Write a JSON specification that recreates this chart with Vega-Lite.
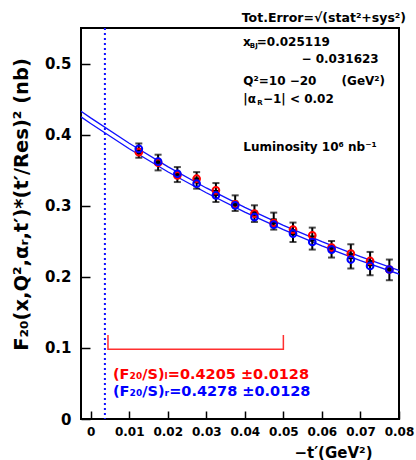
{
  "$schema": "https://vega.github.io/schema/vega-lite/v6.json",
  "width": 318,
  "height": 391,
  "autosize": "none",
  "padding": {"left": 81, "top": 28, "right": 17, "bottom": 41},
  "background": "white",
  "config": {
    "font": "DejaVu Sans",
    "view": {"stroke": "black", "strokeWidth": 2},
    "axis": {"grid": false, "domain": false, "tickColor": "black", "tickWidth": 1.5, "labelColor": "black", "labelFont": "DejaVu Sans", "labelFontWeight": "bold", "titleFont": "DejaVu Sans", "titleFontWeight": "bold", "titleColor": "black", "labelOverlap": false},
    "axisX": {"tickSize": -8, "tickCount": 20, "labelPadding": 15, "labelFontSize": 12, "labelOverlap": false, "labelFlush": false, "titleFontSize": 15, "titleAlign": "right", "titleAnchor": "end", "titleX": 291, "titleY": 33, "titleBaseline": "middle"},
    "axisY": {"tickSize": -9, "tickCount": 20, "labelPadding": 19, "labelFontSize": 15, "labelOverlap": false, "titleFontSize": 19.5, "titleAngle": 270, "titleX": -60, "titleY": 176, "titleAlign": "center", "titleBaseline": "middle"}
  },
  "datasets": {
    "pts": [
      {"t": 0.0125, "F": 0.377, "lo": 0.3675, "hi": 0.3876, "red": 0.3754, "blue": 0.380},
      {"t": 0.0175, "F": 0.361, "lo": 0.3497, "hi": 0.3718, "red": 0.3605, "blue": 0.362},
      {"t": 0.0225, "F": 0.344, "lo": 0.3333, "hi": 0.3544, "red": 0.3427, "blue": 0.345},
      {"t": 0.0275, "F": 0.3357, "lo": 0.324, "hi": 0.3473, "red": 0.338, "blue": 0.331},
      {"t": 0.0325, "F": 0.318, "lo": 0.3052, "hi": 0.3319, "red": 0.3216, "blue": 0.3146},
      {"t": 0.0375, "F": 0.303, "lo": 0.2926, "hi": 0.3146, "red": 0.302, "blue": 0.3006},
      {"t": 0.0425, "F": 0.289, "lo": 0.2771, "hi": 0.3006, "red": 0.2889, "blue": 0.284},
      {"t": 0.0475, "F": 0.278, "lo": 0.2664, "hi": 0.2903, "red": 0.2757, "blue": 0.2734},
      {"t": 0.0525, "F": 0.2626, "lo": 0.249, "hi": 0.2763, "red": 0.2664, "blue": 0.2608},
      {"t": 0.0575, "F": 0.254, "lo": 0.2383, "hi": 0.2692, "red": 0.2584, "blue": 0.249},
      {"t": 0.0625, "F": 0.239, "lo": 0.2271, "hi": 0.2504, "red": 0.241, "blue": 0.2383},
      {"t": 0.0675, "F": 0.229, "lo": 0.2117, "hi": 0.2458, "red": 0.2327, "blue": 0.2243},
      {"t": 0.0725, "F": 0.219, "lo": 0.2022, "hi": 0.235, "red": 0.2223, "blue": 0.2153},
      {"t": 0.0775, "F": 0.21, "lo": 0.1952, "hi": 0.2243, "red": 0.2103, "blue": 0.2103}
    ],
    "fits": [
      {"fit": "upper", "t": -0.0025, "F": 0.433},
      {"fit": "upper", "t": 0.0, "F": 0.4236},
      {"fit": "upper", "t": 0.01, "F": 0.3878},
      {"fit": "upper", "t": 0.02, "F": 0.355},
      {"fit": "upper", "t": 0.03, "F": 0.325},
      {"fit": "upper", "t": 0.04, "F": 0.2976},
      {"fit": "upper", "t": 0.05, "F": 0.2724},
      {"fit": "upper", "t": 0.06, "F": 0.2494},
      {"fit": "upper", "t": 0.07, "F": 0.2283},
      {"fit": "upper", "t": 0.08, "F": 0.209},
      {"fit": "lower", "t": -0.0025, "F": 0.425},
      {"fit": "lower", "t": 0.0, "F": 0.4156},
      {"fit": "lower", "t": 0.01, "F": 0.3802},
      {"fit": "lower", "t": 0.02, "F": 0.3478},
      {"fit": "lower", "t": 0.03, "F": 0.3182},
      {"fit": "lower", "t": 0.04, "F": 0.2911},
      {"fit": "lower", "t": 0.05, "F": 0.2663},
      {"fit": "lower", "t": 0.06, "F": 0.2436},
      {"fit": "lower", "t": 0.07, "F": 0.2229},
      {"fit": "lower", "t": 0.08, "F": 0.2039}
    ],
    "bracket": [
      {"i": 1, "t": 0.0045, "F": 0.118},
      {"i": 2, "t": 0.0045, "F": 0.098},
      {"i": 3, "t": 0.05, "F": 0.098},
      {"i": 4, "t": 0.05, "F": 0.118}
    ],
    "boxtext": [
      {"t": 0.0395, "F": 0.530, "label": "x"},
      {"t": 0.0431, "F": 0.530, "label": "=0.025119"},
      {"t": 0.0547, "F": 0.5066, "label": "− 0.031623"},
      {"t": 0.0396, "F": 0.4761, "label": "Q²=10 −20"},
      {"t": 0.0651, "F": 0.4761, "label": "(GeV²)"},
      {"t": 0.0396, "F": 0.4504, "label": "|α"},
      {"t": 0.0447, "F": 0.4504, "label": "−1| < 0.02"},
      {"t": 0.0396, "F": 0.3824, "label": "Luminosity 10⁶ nb⁻¹"}
    ],
    "subtext": [
      {"t": 0.0413, "F": 0.5245, "label": "BJ"},
      {"t": 0.0432, "F": 0.4449, "label": "R"}
    ]
  },
  "layer": [
    {
      "data": {"name": "fits"},
      "mark": {"type": "line", "color": "#1010ff", "strokeWidth": 1.3, "clip": true},
      "encoding": {
        "x": {"field": "t", "type": "quantitative", "scale": {"domain": [-0.0025, 0.08], "nice": false, "zero": false}, "axis": {"values": [0, 0.01, 0.02, 0.03, 0.04, 0.05, 0.06, 0.07, 0.08], "tickCount": 20, "labelExpr": "datum.value == 0 ? '0' : format(datum.value, '.2f')", "labelOverlap": false, "title": "−t′(GeV²)"}},
        "y": {"field": "F", "type": "quantitative", "scale": {"domain": [0, 0.55], "nice": false}, "axis": {"values": [0, 0.1, 0.2, 0.3, 0.4, 0.5], "tickCount": 20, "labelExpr": "datum.value == 0 ? '0' : format(datum.value, '.1f')", "labelOverlap": false, "title": "F₂₀(x,Q²,αᵣ,t′)*(t′/Res)² (nb)"}},
        "detail": {"field": "fit"}
      }
    },
    {
      "data": {"values": [{"t": 0.0037}]},
      "mark": {"type": "rule", "color": "#1010ff", "strokeWidth": 2, "strokeDash": [2, 3]},
      "encoding": {"x": {"field": "t", "type": "quantitative"}}
    },
    {
      "data": {"name": "bracket"},
      "mark": {"type": "line", "color": "#ff3030", "strokeWidth": 1.5},
      "encoding": {
        "x": {"field": "t", "type": "quantitative"},
        "y": {"field": "F", "type": "quantitative"},
        "order": {"field": "i"}
      }
    },
    {
      "data": {"name": "pts"},
      "mark": {"type": "rule", "color": "black", "strokeWidth": 2},
      "encoding": {
        "x": {"field": "t", "type": "quantitative"},
        "y": {"field": "lo", "type": "quantitative"},
        "y2": {"field": "hi"}
      }
    },
    {
      "data": {"name": "pts"},
      "mark": {"type": "tick", "orient": "horizontal", "color": "black", "size": 7, "thickness": 2},
      "encoding": {
        "x": {"field": "t", "type": "quantitative"},
        "y": {"field": "lo", "type": "quantitative"}
      }
    },
    {
      "data": {"name": "pts"},
      "mark": {"type": "tick", "orient": "horizontal", "color": "black", "size": 7, "thickness": 2},
      "encoding": {
        "x": {"field": "t", "type": "quantitative"},
        "y": {"field": "hi", "type": "quantitative"}
      }
    },
    {
      "data": {"name": "pts"},
      "mark": {"type": "point", "shape": "square", "filled": true, "color": "black", "size": 36, "opacity": 1},
      "encoding": {
        "x": {"field": "t", "type": "quantitative"},
        "y": {"field": "F", "type": "quantitative"}
      }
    },
    {
      "data": {"name": "pts"},
      "mark": {"type": "point", "shape": "circle", "filled": false, "color": "#ff0000", "strokeWidth": 2, "size": 45, "opacity": 1},
      "encoding": {
        "x": {"field": "t", "type": "quantitative"},
        "y": {"field": "red", "type": "quantitative"}
      }
    },
    {
      "data": {"name": "pts"},
      "mark": {"type": "point", "shape": "circle", "filled": false, "color": "#0000ff", "strokeWidth": 2, "size": 45, "opacity": 1},
      "encoding": {
        "x": {"field": "t", "type": "quantitative"},
        "y": {"field": "blue", "type": "quantitative"}
      }
    },
    {
      "data": {"name": "boxtext"},
      "mark": {"type": "text", "align": "left", "baseline": "middle", "fontSize": 12, "fontWeight": "bold", "color": "black"},
      "encoding": {
        "x": {"field": "t", "type": "quantitative"},
        "y": {"field": "F", "type": "quantitative"},
        "text": {"field": "label"}
      }
    },
    {
      "data": {"name": "subtext"},
      "mark": {"type": "text", "align": "left", "baseline": "middle", "fontSize": 7, "fontWeight": "bold", "color": "black"},
      "encoding": {
        "x": {"field": "t", "type": "quantitative"},
        "y": {"field": "F", "type": "quantitative"},
        "text": {"field": "label"}
      }
    },
    {
      "data": {"values": [{"t": 0.0392, "F": 0.5646, "label": "Tot.Error=√(stat²+sys²)"}]},
      "mark": {"type": "text", "align": "left", "baseline": "middle", "fontSize": 12.5, "fontWeight": "bold", "color": "black", "clip": false},
      "encoding": {
        "x": {"field": "t", "type": "quantitative"},
        "y": {"field": "F", "type": "quantitative"},
        "text": {"field": "label"}
      }
    },
    {
      "data": {"values": [{"t": 0.0058, "F": 0.0618, "label": "(F₂₀/S)ₗ=0.4205 ±0.0128"}]},
      "mark": {"type": "text", "align": "left", "baseline": "middle", "fontSize": 14.5, "fontWeight": "bold", "color": "#ff0000"},
      "encoding": {
        "x": {"field": "t", "type": "quantitative"},
        "y": {"field": "F", "type": "quantitative"},
        "text": {"field": "label"}
      }
    },
    {
      "data": {"values": [{"t": 0.0058, "F": 0.038, "label": "(F₂₀/S)ᵣ=0.4278 ±0.0128"}]},
      "mark": {"type": "text", "align": "left", "baseline": "middle", "fontSize": 14.5, "fontWeight": "bold", "color": "#0000ff"},
      "encoding": {
        "x": {"field": "t", "type": "quantitative"},
        "y": {"field": "F", "type": "quantitative"},
        "text": {"field": "label"}
      }
    }
  ]
}
